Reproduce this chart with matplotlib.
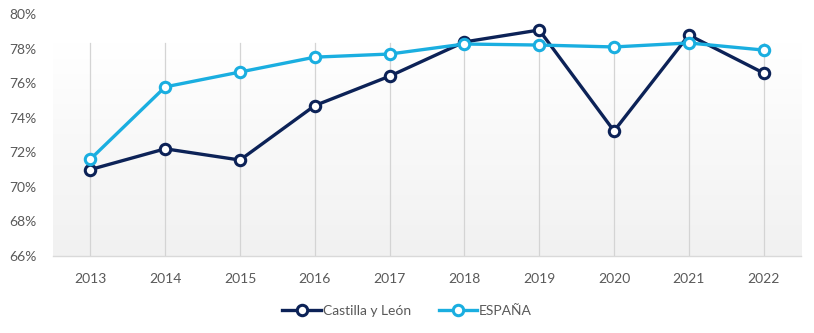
import matplotlib
matplotlib.use("Agg")
import matplotlib.pyplot as plt
import numpy as np
from matplotlib.ticker import FuncFormatter
from matplotlib.colors import LinearSegmentedColormap

years = ["2013", "2014", "2015", "2016", "2017", "2018", "2019", "2020", "2021", "2022"]
castilla = [71.0, 72.2, 71.55, 74.7, 76.4, 78.38, 79.07, 73.23, 78.78, 76.58]
espana = [71.6, 75.78, 76.64, 77.5, 77.68, 78.26, 78.2, 78.09, 78.32, 77.91]

plt.rcParams['font.family'] = ['Lato', 'DejaVu Sans']

fig = plt.figure(figsize=(8.14, 3.33), dpi=100)
ax = fig.add_axes([0.0651, 0.2312, 0.919, 0.727])

x = np.arange(len(years))
ax.set_xlim(-0.5, len(years) - 0.5)
ax.set_ylim(66, 80)

# gradient background
grad = np.linspace(0, 1, 256).reshape(-1, 1)
cmap = LinearSegmentedColormap.from_list("g", ["#f1f1f1", "#ffffff"])
ax.imshow(grad, extent=[-0.5, len(years) - 0.5, 66, 78.3], origin="lower",
          aspect="auto", cmap=cmap, zorder=0)

for xi in x:
    ax.plot([xi, xi], [66, 78.3], color="#d4d4d4", lw=0.9, zorder=1)

c1 = "#0c2257"
c2 = "#1aaee0"
ax.plot(x, castilla, color=c1, lw=2.4, marker="o", ms=7.5, mfc="white",
        mec=c1, mew=2.2, label="Castilla y León", zorder=3)
ax.plot(x, espana, color=c2, lw=2.4, marker="o", ms=7.5, mfc="white",
        mec=c2, mew=2.2, label="ESPAÑA", zorder=4)

ax.set_xticks(x)
ax.set_xticklabels(years)
ax.set_yticks(np.arange(66, 81, 2))
ax.yaxis.set_major_formatter(FuncFormatter(lambda v, p: f"{v:.0f}%"))
ax.tick_params(axis="both", length=0, labelsize=10, colors="#595959")
ax.tick_params(axis="x", pad=12)
ax.tick_params(axis="y", pad=12)
for s in ["top", "right", "left"]:
    ax.spines[s].set_visible(False)
ax.spines["bottom"].set_color("#d9d9d9")
ax.spines["bottom"].set_linewidth(1.0)

leg = fig.legend(loc="center", bbox_to_anchor=(0.5, 0.065), ncol=2, frameon=False,
                 fontsize=10, handlelength=2.8, handletextpad=0.1, columnspacing=2.0)
for t in leg.get_texts():
    t.set_color("#595959")

fig.savefig("out.png", dpi=100)
